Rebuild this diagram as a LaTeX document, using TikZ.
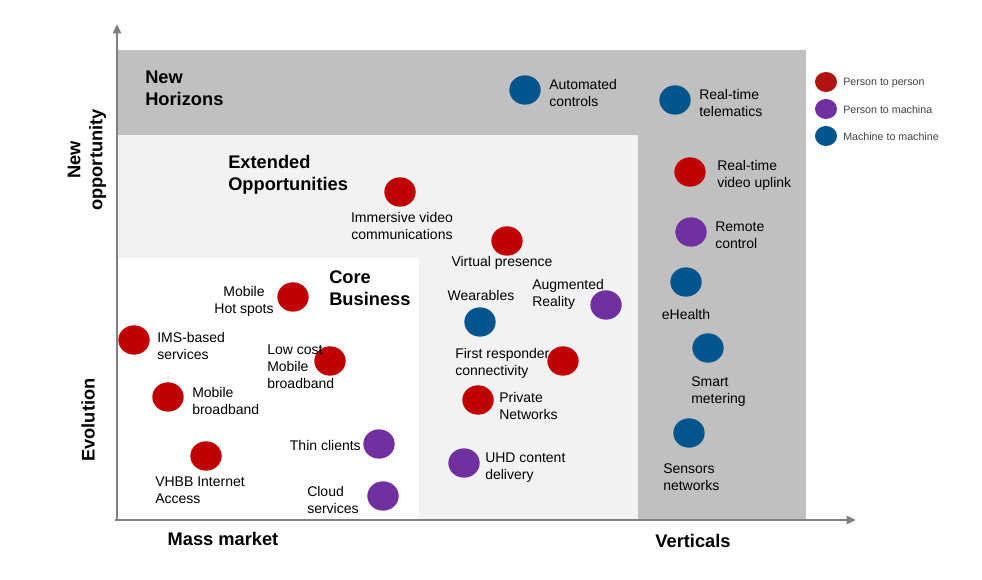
\documentclass[tikz,border=0pt]{standalone}
\usepackage{fontspec}
\setmainfont{Liberation Sans}
\usetikzlibrary{shapes.geometric,arrows.meta}
\definecolor{hzgray}{HTML}{C0C0C0}
\definecolor{exgray}{HTML}{F2F2F2}
\definecolor{axgray}{HTML}{808080}
\definecolor{pred}{HTML}{C00000}
\definecolor{ppur}{HTML}{7030A0}
\definecolor{pblu}{HTML}{00558C}
\definecolor{lgred}{HTML}{B01410}
\definecolor{lgtxt}{HTML}{404040}
\tikzset{
  dotbase/.style={ellipse,minimum width=23.5pt,minimum height=22pt,inner sep=0pt},
  pp/.style={dotbase,fill=pred},
  pm/.style={dotbase,fill=ppur},
  mm/.style={dotbase,fill=pblu},
  lbl/.style={inner sep=0pt,align=left,font=\fontsize{10.5}{12.75}\selectfont},
  lblc/.style={inner sep=0pt,align=center,font=\fontsize{10.5}{12.75}\selectfont},
  head/.style={inner sep=0pt,align=left,font=\fontsize{13.7}{16.5}\selectfont\bfseries},
  legdot/.style={ellipse,minimum width=16.5pt,minimum height=15pt,inner sep=0pt},
  legtxt/.style={inner sep=0pt,anchor=west,text=lgtxt,font=\fontsize{8}{9}\selectfont},
}
\begin{document}
\begin{tikzpicture}[x=0.75pt,y=-0.75pt]
\useasboundingbox (0,0) rectangle (982,580);
% regions
\fill[hzgray] (117,50) rectangle (806,519);
\fill[exgray] (117,135) rectangle (638,519);
\fill[white] (117,258) rectangle (419,519);
% axes
\coordinate (yb) at (117,520);
\coordinate (yt) at (117,24);
\coordinate (xl) at (115,520);
\coordinate (xr) at (856,520);
\draw[axgray,line width=2.2pt,-{Triangle[length=7pt,width=6pt]}] (yb) -- (yt);
\draw[axgray,line width=2.2pt,-{Triangle[length=7pt,width=6pt]}] (xl) -- (xr);
% headings
\node[head,anchor=west] (hNH) at (145,88) {New\\Horizons};
\node[head,anchor=west] (hEO) at (228,175) {Extended\\Opportunities};
\node[head,anchor=west] (hCB) at (329,288) {Core\\Business};
% axis labels
\node[head,align=center,rotate=90] (aNO) at (87,160) {New\\opportunity};
\node[head,rotate=90] (aEV) at (88,420) {Evolution};
\node[head] (aMM) at (223,539) {Mass market};
\node[head] (aVE) at (693,541) {Verticals};
% New horizons
\node[mm] (c1) at (525,90) {};
\node[lbl,anchor=west] (t1) at (549,93.5) {Automated\\controls};
\node[mm] (c2) at (675,100) {};
\node[lbl,anchor=west] (t2) at (699,103.5) {Real-time\\telematics};
\node[pp] (c3) at (690,172) {};
\node[lbl,anchor=west] (t3) at (717,175.5) {Real-time\\video uplink};
\node[pm] (c4) at (691,232) {};
\node[lbl,anchor=west] (t4) at (715,235.5) {Remote\\control};
\node[mm] (c5) at (686,282) {};
\node[lblc] (t5) at (686,314) {eHealth};
\node[mm] (c6) at (708,348) {};
\node[lbl,anchor=west] (t6) at (691,391.5) {Smart\\metering};
\node[mm] (c7) at (689,433) {};
\node[lbl,anchor=west] (t7) at (663,477.5) {Sensors\\networks};
% extended
\node[pp] (c8) at (400,192) {};
\node[lblc] (t8) at (402,225.5) {Immersive video\\communications};
\node[pp] (c9) at (507,241) {};
\node[lblc] (t9) at (502,263) {Virtual presence};
\node[mm] (c10) at (480,322) {};
\node[lblc] (t10) at (481,296) {Wearables};
\node[pm] (c11) at (606,305) {};
\node[lbl,anchor=west] (t11) at (532,294.5) {Augmented\\Reality};
\node[pp] (c12) at (563,361) {};
\node[lbl,anchor=west] (t12) at (455,363.5) {First responder\\connectivity};
\node[pp] (c13) at (478,400) {};
\node[lbl,anchor=west] (t13) at (499,405.5) {Private\\Networks};
\node[pm] (c14) at (464,463) {};
\node[lbl,anchor=west] (t14) at (485,467.5) {UHD content\\delivery};
% core
\node[pp] (c15) at (293,297) {};
\node[lblc] (t15) at (244,301.5) {Mobile\\Hot spots};
\node[pp] (c16) at (134,340) {};
\node[lbl,anchor=west] (t16) at (157,345.5) {IMS-based\\services};
\node[pp] (c17) at (330,361) {};
\node[lbl,anchor=west] (t17) at (267,367) {Low cost\\Mobile\\broadband};
\node[pp] (c18) at (168,397) {};
\node[lbl,anchor=west] (t18) at (192,400.5) {Mobile\\broadband};
\node[pm] (c19) at (379,444) {};
\node[lbl,anchor=east] (t19) at (361,445) {Thin clients};
\node[pp] (c20) at (206,456) {};
\node[lbl,anchor=west] (t20) at (155,490) {VHBB Internet\\Access};
\node[pm] (c21) at (383,496) {};
\node[lbl,anchor=west] (t21) at (307,499.5) {Cloud\\services};
% legend
\node[legdot,fill=lgred] (l1) at (826,82) {};
\node[legtxt] (lt1) at (843,83) {Person to person};
\node[legdot,fill=ppur] (l2) at (826,109) {};
\node[legtxt] (lt2) at (843,110) {Person to machina};
\node[legdot,fill=pblu] (l3) at (826,136) {};
\node[legtxt] (lt3) at (843,137) {Machine to machine};
\end{tikzpicture}
\end{document}
